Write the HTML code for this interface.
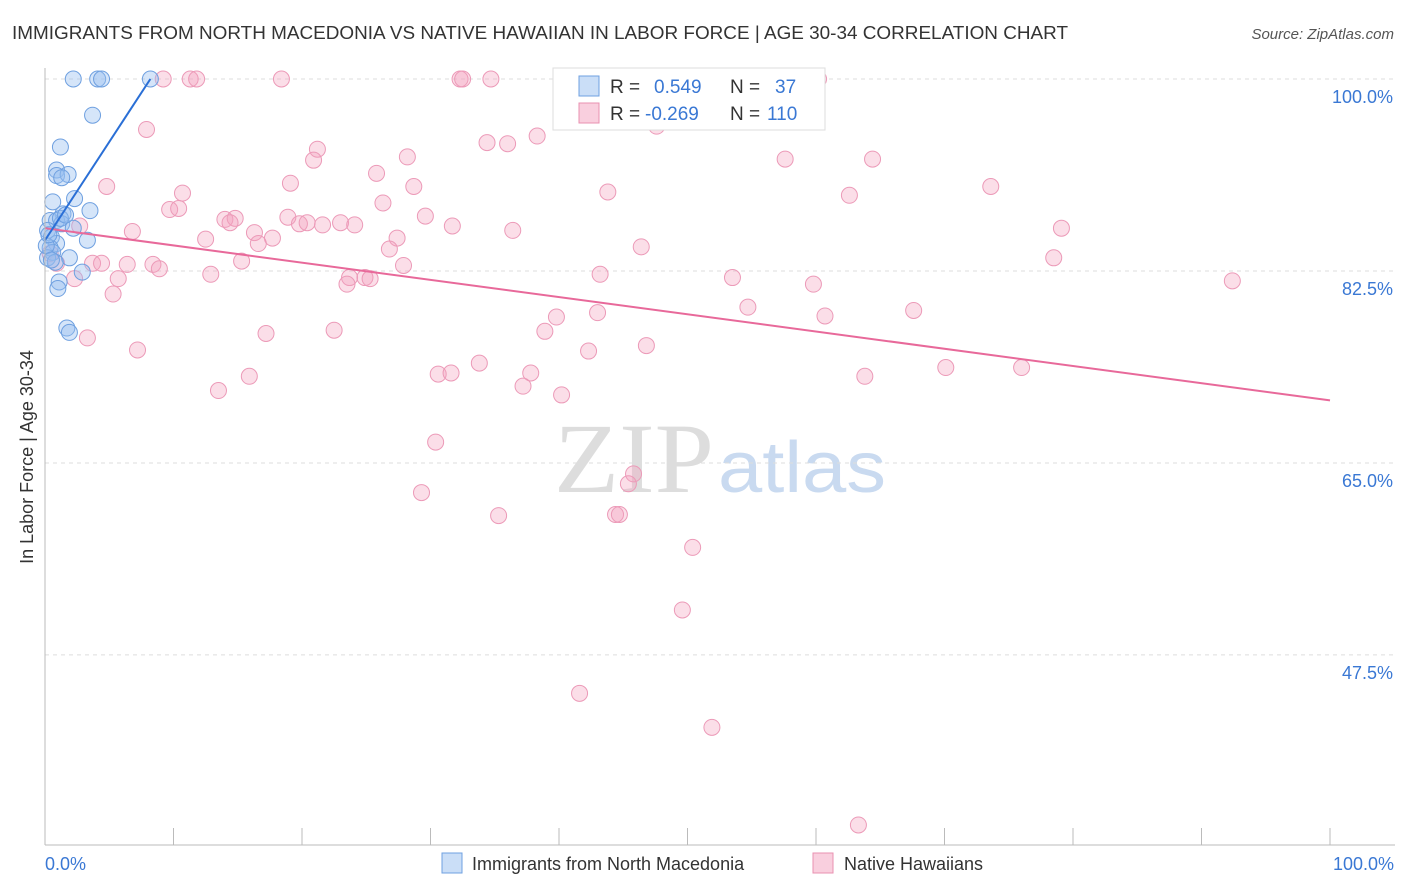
<!DOCTYPE html>
<html><head><meta charset="utf-8">
<style>
body{margin:0;background:#fff;font-family:"Liberation Sans",sans-serif;}
svg{display:block}
</style></head>
<body>
<svg id="chart" width="1406" height="892">
<text x="12" y="39" font-size="18" fill="#333" textLength="1056" lengthAdjust="spacingAndGlyphs">IMMIGRANTS FROM NORTH MACEDONIA VS NATIVE HAWAIIAN IN LABOR FORCE | AGE 30-34 CORRELATION CHART</text>
<text x="1394" y="39" font-size="15" fill="#555" font-style="italic" text-anchor="end">Source: ZipAtlas.com</text>
<text x="33" y="457" font-size="18" fill="#333" text-anchor="middle" transform="rotate(-90 33 457)">In Labor Force | Age 30-34</text>
<text x="714" y="492" font-size="100" fill="#ddd" text-anchor="end" font-family="Liberation Serif,serif" textLength="160" lengthAdjust="spacingAndGlyphs">ZIP</text>
<text x="718" y="492" font-size="72" fill="#c9daf0" textLength="168" lengthAdjust="spacingAndGlyphs">atlas</text>
<g id="grid"></g>
<g id="pts"></g>
<g id="trend"></g>
<line x1="45" y1="68" x2="45" y2="845" stroke="#bbb"/>
<line x1="45" y1="845" x2="1395" y2="845" stroke="#bbb"/>
<g id="xticks"></g>
<text x="45" y="870" font-size="18" fill="#3a78d4">0.0%</text>
<text x="1394" y="870" font-size="18" fill="#3a78d4" text-anchor="end">100.0%</text>
<g>
<rect x="553" y="68" width="272" height="62" fill="#fff" stroke="#ddd"/>
<rect x="579" y="76" width="20" height="20" fill="rgba(150,190,240,0.5)" stroke="#6fa0e0"/>
<rect x="579" y="103" width="20" height="20" fill="rgba(244,160,190,0.5)" stroke="#e990b0"/>
<text x="610" y="93" font-size="19" fill="#333">R = <tspan fill="#3a78d4" x="654">0.549</tspan><tspan x="730">N =</tspan><tspan fill="#3a78d4" x="775">37</tspan></text>
<text x="610" y="120" font-size="19" fill="#333">R = <tspan fill="#3a78d4" x="645">-0.269</tspan><tspan x="730">N =</tspan><tspan fill="#3a78d4" x="767">110</tspan></text>
</g>
<g>
<rect x="442" y="853" width="20" height="20" fill="rgba(150,190,240,0.5)" stroke="#6fa0e0"/>
<text x="472" y="870" font-size="18" fill="#333">Immigrants from North Macedonia</text>
<rect x="813" y="853" width="20" height="20" fill="rgba(244,160,190,0.5)" stroke="#e990b0"/>
<text x="844" y="870" font-size="18" fill="#333">Native Hawaiians</text>
</g>
</svg>
<script>
const yTicks=[100,82.5,65,47.5];
const yTickLabels=["100.0%","82.5%","65.0%","47.5%"];
const blueX=[2.2,4.1,4.4,8.2,3.7,1.2,0.9,0.9,1.8,1.3,2.3,0.6,3.5,1.4,0.4,0.9,1.3,0.2,2.2,0.5,3.3,0.9,0.4,0.6,0.2,1.9,0.8,2.9,1.1,1.0,1.7,1.9,0.1,0.3,1.2,0.5,1.6];
const blueY=[100,100,100,100,96.7,93.8,91.7,91.2,91.3,91.0,89.1,88.8,88.0,87.7,87.1,87.1,86.8,86.2,86.4,85.6,85.3,85.0,84.6,84.2,83.7,83.7,83.3,82.4,81.5,80.9,77.3,76.9,84.8,85.8,87.3,83.5,87.6];
const pinkX=[9.2,11.3,11.8,18.4,32.3,32.5,34.7,60.2,7.9,38.3,47.6,34.4,36.0,21.2,20.9,28.2,57.6,64.4,25.8,4.8,19.1,28.7,10.7,43.8,62.6,73.6,9.7,10.4,26.3,29.6,18.9,14.0,14.8,14.4,19.8,20.4,21.6,23.0,24.1,31.7,36.4,79.1,6.8,16.3,12.5,17.7,16.6,27.4,26.8,46.4,15.3,3.7,4.4,6.4,8.4,8.9,27.9,43.2,78.5,12.9,5.7,2.3,23.7,24.9,25.3,23.5,53.5,59.8,92.4,5.3,54.7,43.0,67.6,39.8,60.7,38.9,17.2,22.5,3.3,7.2,42.3,46.8,33.8,70.1,76.0,63.8,15.9,30.6,31.6,37.8,37.2,13.5,40.2,30.4,45.8,45.4,29.3,35.3,44.4,44.7,50.4,49.6,41.6,51.9,63.3,2.7,0.9,0.4];
const pinkY=[100,100,100,100,100,100,100,100,95.4,94.8,95.7,94.2,94.1,93.6,92.6,92.9,92.7,92.7,91.4,90.2,90.5,90.2,89.6,89.7,89.4,90.2,88.1,88.2,88.7,87.5,87.4,87.2,87.3,86.9,86.8,86.9,86.7,86.9,86.7,86.6,86.2,86.4,86.1,86.0,85.4,85.5,85.0,85.5,84.5,84.7,83.4,83.2,83.2,83.1,83.1,82.7,83.0,82.2,83.7,82.2,81.8,81.8,81.9,81.9,81.8,81.3,81.9,81.3,81.6,80.4,79.2,78.7,78.9,78.3,78.4,77.0,76.8,77.1,76.4,75.3,75.2,75.7,74.1,73.7,73.7,72.9,72.9,73.1,73.2,73.2,72.0,71.6,71.2,66.9,64.0,63.1,62.3,60.2,60.3,60.3,57.3,51.6,44.0,40.9,32.0,86.6,83.2,84.1];
const blueTrend=[[0,85.3],[8.2,100]];
const pinkTrend=[[0,86.4],[100,70.7]];
const X=v=>45+v*12.85, Y=v=>79+(100-v)*10.97;
const NS="http://www.w3.org/2000/svg";
function mk(t,a,p){const e=document.createElementNS(NS,t);for(const k in a)e.setAttribute(k,a[k]);p.appendChild(e);return e;}
const grid=document.getElementById('grid');
yTicks.forEach((t,i)=>{
 const l=mk('line',{x1:45,x2:1395,y1:Y(t),y2:Y(t),stroke:'#ddd','stroke-dasharray':'4 4'},grid);
 
 
 const tx=mk('text',{x:1393,y:Y(t)+24,'font-size':18,fill:'#3a78d4','text-anchor':'end'},grid);
 tx.textContent=yTickLabels[i];
 
 
});
const xt=document.getElementById('xticks');
for(let i=1;i<=10;i++){const l=mk('line',{x1:X(i*10),x2:X(i*10),y1:828,y2:845,stroke:'#bbb'},xt);
 
 }
const pts=document.getElementById('pts');
pinkX.forEach((x,i)=>{const c=mk('circle',{cx:X(x),cy:Y(pinkY[i]),r:8,fill:'rgba(244,160,190,0.35)',stroke:'#ec9ab8','stroke-width':1},pts);
 
 });
blueX.forEach((x,i)=>{const c=mk('circle',{cx:X(x),cy:Y(blueY[i]),r:8,fill:'rgba(150,190,240,0.4)',stroke:'#6fa0e0','stroke-width':1},pts);
 
 });
const tr=document.getElementById('trend');
const pl=mk('line',{x1:X(pinkTrend[0][0]),y1:Y(pinkTrend[0][1]),x2:X(pinkTrend[1][0]),y2:Y(pinkTrend[1][1]),stroke:'#e8699a','stroke-width':2},tr);


const bl=mk('line',{x1:X(blueTrend[0][0]),y1:Y(blueTrend[0][1]),x2:X(blueTrend[1][0]),y2:Y(blueTrend[1][1]),stroke:'#2a6fd6','stroke-width':2},tr);


</script>
</body></html>
